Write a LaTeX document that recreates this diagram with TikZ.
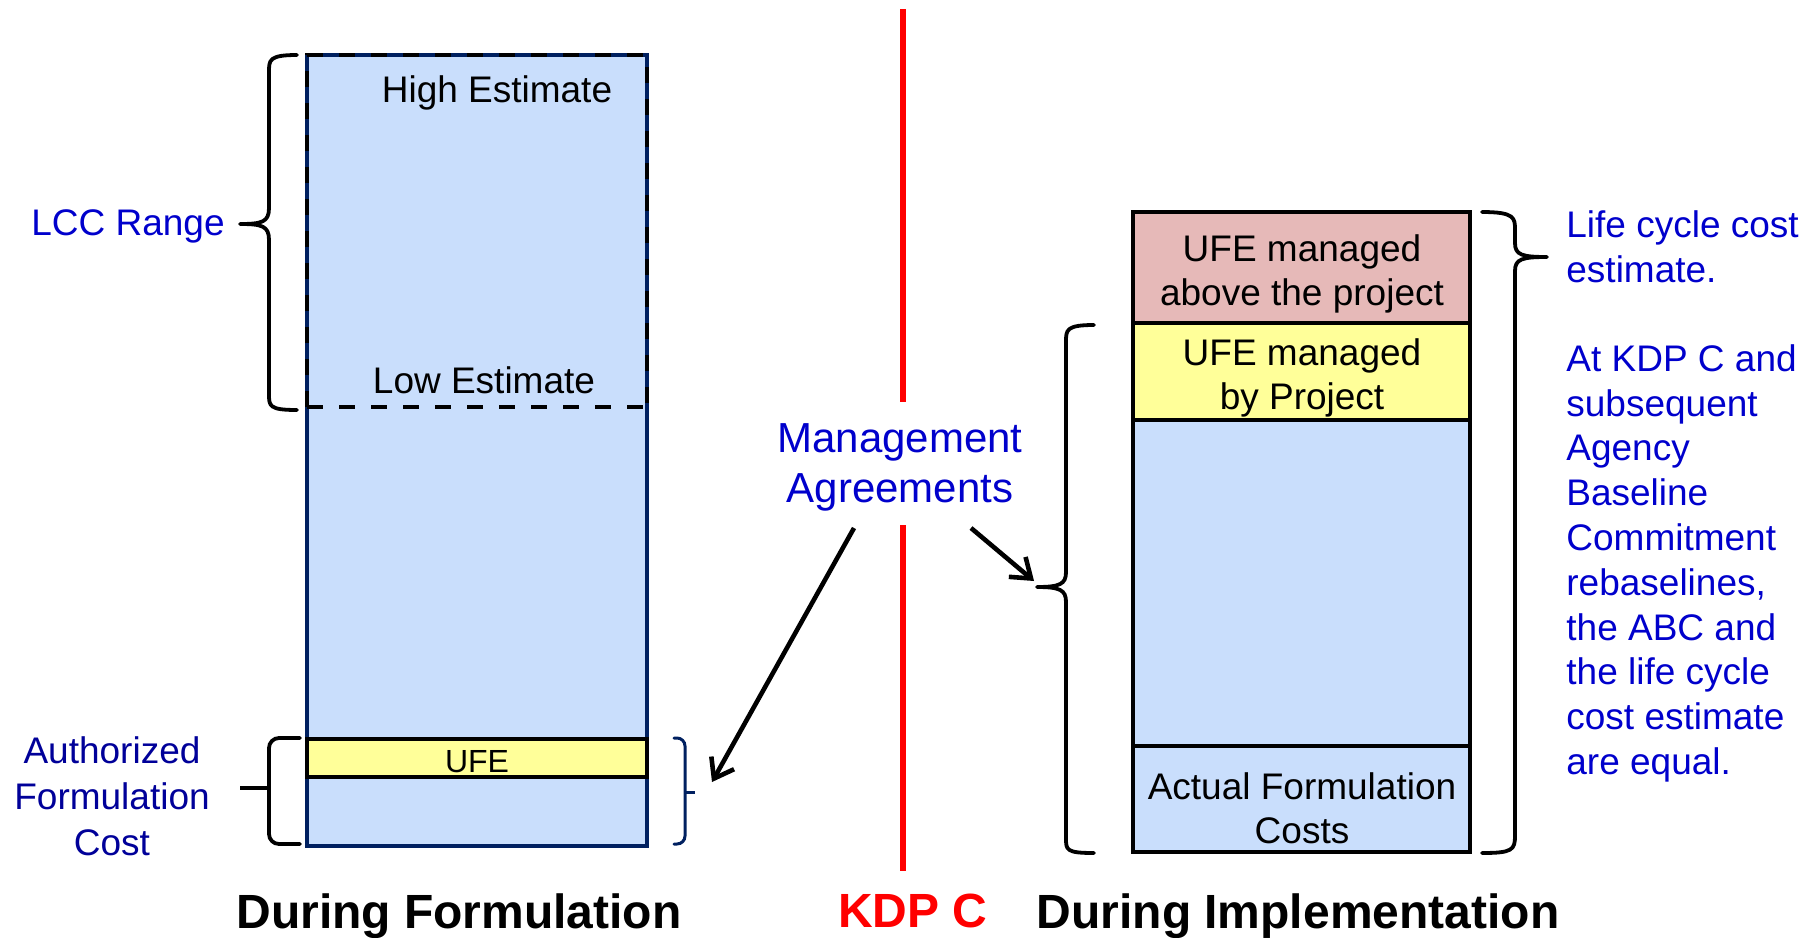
\documentclass[tikz,border=0pt]{standalone}
\usepackage{fontspec}
\setmainfont{Liberation Sans}
\usetikzlibrary{arrows.meta}
\definecolor{barblue}{RGB}{201,222,252}
\definecolor{barpink}{RGB}{230,185,184}
\definecolor{baryellow}{RGB}{255,255,153}
\definecolor{navyc}{RGB}{0,32,96}
\definecolor{txtblue}{RGB}{0,0,204}
\definecolor{txtnavy}{RGB}{0,0,153}
\definecolor{kdpred}{RGB}{255,0,0}
\tikzset{
  lbl/.style={inner sep=0pt, align=center, text depth=0pt, font=\fontsize{18.5}{22.4}\selectfont},
  lbltwo/.style={inner sep=0pt, align=center, text depth=0pt, font=\fontsize{18.5}{22}\selectfont},
  lblafc/.style={inner sep=0pt, align=center, text depth=0pt, text=txtnavy, font=\fontsize{18.5}{23}\selectfont},
  lblright/.style={inner sep=0pt, align=left, text depth=0pt, text=txtblue, anchor=west, font=\fontsize{18.5}{22.4}\selectfont},
  lblsmall/.style={inner sep=0pt, text depth=0pt, font=\fontsize{16}{19}\selectfont},
  lblmgmt/.style={inner sep=0pt, align=center, text depth=0pt, text=txtblue, font=\fontsize{21}{25}\selectfont},
  lblbottom/.style={inner sep=0pt, text depth=0pt, font=\fontsize{24}{28}\selectfont\bfseries},
  barL/.style={fill=barblue, draw=navyc, line width=2.4pt},
  ufeband/.style={fill=baryellow, draw=black, line width=2.4pt},
  dashedge/.style={draw=black, line width=2.2pt, dash pattern=on 8pt off 8pt},
  barR/.style={draw=black, line width=2.4pt},
  bracecurve/.style={draw=black, line width=1.9pt, line cap=round, line join=round},
  navybracket/.style={draw=navyc, line width=1.5pt, rounded corners=4pt, line cap=round},
  blackbracket/.style={draw=black, line width=1.9pt, rounded corners=5pt, line cap=round},
  redline/.style={draw=kdpred, line width=3pt},
  arr/.style={draw=black, line width=2.3pt, -{Straight Barb[length=9pt,width=13pt,line width=2.3pt]}},
}
\begin{document}
\begin{tikzpicture}[x=0.5pt,y=-0.5pt]
\useasboundingbox (0,0) rectangle (1820,937);

% ---------- left bar (During Formulation) ----------
\fill[barblue] (307,55) rectangle (647,846);
\draw[barL] (307,55) rectangle (647,846);
\draw[dashedge] (307,407) -- (307,55) -- (647,55) -- (647,407);
\draw[dashedge] (307,407) -- (647,407);
\draw[ufeband] (307,739) rectangle (647,777);

\node[lbl] (high) at (497,89) {High Estimate};
\node[lbl] (low) at (484,380) {Low Estimate};
\node[lblsmall] (ufeL) at (477,761) {UFE};

% LCC brace
\draw[bracecurve] (297,55) .. controls (269,55) and (269,60) .. (269,72)
  -- (269,208) .. controls (269,222) and (262,224) .. (240,224)
  .. controls (262,224) and (269,226) .. (269,240)
  -- (269,394) .. controls (269,406) and (269,410) .. (297,410);
\node[lbl, text=txtblue] (lcc) at (128,223) {LCC Range};

% Authorized formulation cost bracket
\draw[blackbracket] (300,738) -- (269,738) -- (269,844) -- (300,844);
\draw[draw=black, line width=1.9pt] (240,788) -- (269,788);
\node[lblafc] (afc) at (112,796) {Authorized\\Formulation\\Cost};

% navy bracket right of left bar
\draw[navybracket] (674,738) -- (685,738) -- (685,844) -- (674,844);
\draw[draw=navyc, line width=1.5pt] (685,792) -- (695,792);

% ---------- KDP C line ----------
\coordinate (r1) at (903,9);
\coordinate (r2) at (903,402);
\coordinate (r3) at (903,525);
\coordinate (r4) at (903,871);
\draw[redline] (r1) -- (r2);
\draw[redline] (r3) -- (r4);

\node[lblmgmt] (mgmt) at (900,463) {Management\\Agreements};

\coordinate (aL1) at (854,528);
\coordinate (aL2) at (712,782);
\coordinate (aR1) at (971,528);
\coordinate (aR2) at (1034,581);
\draw[arr] (aL1) -- (aL2);
\draw[arr] (aR1) -- (aR2);

% ---------- right bar (During Implementation) ----------
\fill[barpink] (1133,212) rectangle (1470,323);
\fill[baryellow] (1133,323) rectangle (1470,420);
\fill[barblue] (1133,420) rectangle (1470,852);
\draw[barR] (1133,212) rectangle (1470,852);
\draw[barR] (1133,323) -- (1470,323);
\draw[barR] (1133,420) -- (1470,420);
\draw[barR] (1133,746) -- (1470,746);

\node[lbltwo] (ufeabove) at (1302,270) {UFE managed\\above the project};
\node[lbltwo] (ufeproj) at (1302,374) {UFE managed\\by Project};
\node[lbltwo] (actual) at (1302,808) {Actual Formulation\\Costs};

% right brace (life cycle cost estimate)
\draw[bracecurve] (1482,212) .. controls (1515,212) and (1515,218) .. (1515,230)
  -- (1515,243) .. controls (1515,255) and (1522,257) .. (1547,257)
  .. controls (1522,257) and (1515,259) .. (1515,271)
  -- (1515,836) .. controls (1515,850) and (1512,853) .. (1482,853);

% left brace of right bar (project)
\draw[bracecurve] (1094,325) .. controls (1066,325) and (1066,330) .. (1066,342)
  -- (1066,572) .. controls (1066,584) and (1060,587) .. (1037,587)
  .. controls (1060,587) and (1066,590) .. (1066,602)
  -- (1066,838) .. controls (1066,850) and (1066,853) .. (1094,853);

\node[lblright] (lccest) at (1566,246.5) {Life cycle cost\\estimate.};
\node[lblright] (kdpnote) at (1566,559.5) {At KDP C and\\subsequent\\Agency\\Baseline\\Commitment\\rebaselines,\\the ABC and\\the life cycle\\cost estimate\\are equal.};

% ---------- bottom labels ----------
\node[lblbottom] (form) at (459,911) {During Formulation};
\node[lblbottom, text=kdpred] (kdp) at (913,911) {KDP C};
\node[lblbottom] (impl) at (1298,911) {During Implementation};
\end{tikzpicture}
\end{document}
